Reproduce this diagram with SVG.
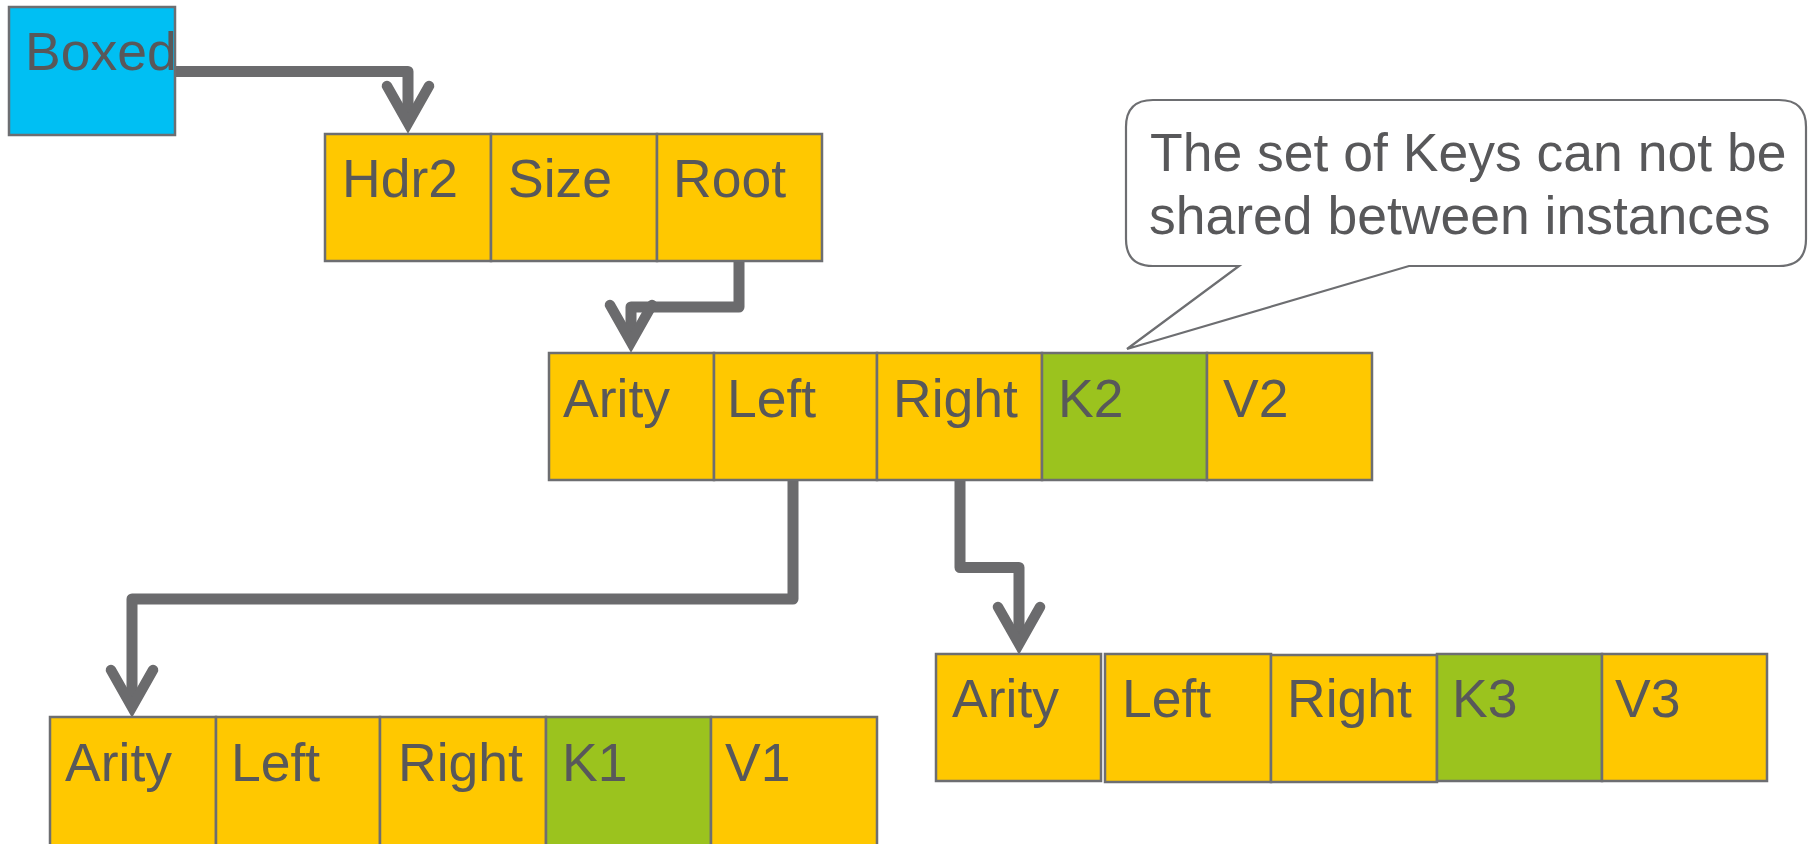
<svg xmlns="http://www.w3.org/2000/svg" width="1808" height="844" viewBox="0 0 1808 844">
<style>
  .cell { stroke: #6d6e71; stroke-width: 2.5; }
  .y { fill: #ffc800; }
  .g { fill: #9bc31e; }
  .b { fill: #00bff3; }
  .t { font-family: "Liberation Sans", Arial, sans-serif; font-size: 53.5px; fill: #58585a; }
  .conn { fill: none; stroke: #6b6b6d; stroke-width: 11; stroke-linejoin: round; marker-end: url(#arr); }
  .callout { fill: #ffffff; stroke: #6d6e71; stroke-width: 2.2; stroke-linejoin: miter; }
</style>
<defs>
  <marker id="arr" markerUnits="userSpaceOnUse" orient="auto" refX="0" refY="0" markerWidth="80" markerHeight="80" viewBox="-40 -40 80 80" overflow="visible">
    <path d="M-37,-21 L0,0 L-37,21" fill="none" stroke="#6b6b6d" stroke-width="10.5" stroke-linecap="round" stroke-linejoin="miter" stroke-miterlimit="6"/>
  </marker>
</defs>
<rect width="1808" height="844" fill="#ffffff"/>

<g id="connectors">
  <path class="conn" d="M174,71.5 H408 V123"/>
  <path class="conn" d="M739,261 V307 H631 V342"/>
  <path class="conn" d="M793,480 V599 H132 V707"/>
  <path class="conn" d="M960,480 V567.5 H1019 V644"/>
</g>

<g id="boxed">
  <rect class="cell b" x="9" y="7" width="166" height="128"/>
  <text class="t" x="25" y="70">Boxed</text>
</g>

<g id="header">
  <rect class="cell y" x="325" y="134" width="166" height="127"/>
  <rect class="cell y" x="491" y="134" width="166" height="127"/>
  <rect class="cell y" x="657" y="134" width="165" height="127"/>
  <text class="t" x="342" y="197">Hdr2</text>
  <text class="t" x="508" y="197">Size</text>
  <text class="t" x="673" y="197">Root</text>
</g>

<g id="node2">
  <rect class="cell y" x="549" y="353" width="165" height="127"/>
  <rect class="cell y" x="714" y="353" width="163" height="127"/>
  <rect class="cell y" x="877" y="353" width="165" height="127"/>
  <rect class="cell g" x="1042" y="353" width="165" height="127"/>
  <rect class="cell y" x="1207" y="353" width="165" height="127"/>
  <text class="t" x="563" y="417">Arity</text>
  <text class="t" x="727" y="417">Left</text>
  <text class="t" x="893" y="417">Right</text>
  <text class="t" x="1058" y="417">K2</text>
  <text class="t" x="1223" y="417">V2</text>
</g>

<g id="node1">
  <rect class="cell y" x="50" y="717" width="166" height="130"/>
  <rect class="cell y" x="216" y="717" width="164" height="130"/>
  <rect class="cell y" x="380" y="717" width="166" height="130"/>
  <rect class="cell g" x="546" y="717" width="165" height="130"/>
  <rect class="cell y" x="711" y="717" width="166" height="130"/>
  <text class="t" x="65" y="781">Arity</text>
  <text class="t" x="231" y="781">Left</text>
  <text class="t" x="398" y="781">Right</text>
  <text class="t" x="562" y="781">K1</text>
  <text class="t" x="725" y="781">V1</text>
</g>

<g id="node3">
  <rect class="cell y" x="936" y="654" width="165" height="127"/>
  <rect class="cell y" x="1105" y="654" width="166" height="128"/>
  <rect class="cell y" x="1271" y="655" width="166" height="127"/>
  <rect class="cell g" x="1437" y="654" width="165" height="127"/>
  <rect class="cell y" x="1602" y="654" width="165" height="127"/>
  <text class="t" x="952" y="717">Arity</text>
  <text class="t" x="1122" y="717">Left</text>
  <text class="t" x="1287" y="717">Right</text>
  <text class="t" x="1452" y="717">K3</text>
  <text class="t" x="1615" y="717">V3</text>
</g>

<g id="callout">
  <path class="callout" d="M1153,100 H1779 Q1806,100 1806,127 V239 Q1806,266 1779,266 H1409 L1127,349 L1239,266 H1153 Q1126,266 1126,239 V127 Q1126,100 1153,100 Z"/>
  <text class="t" x="1150" y="171">The set of Keys can not be</text>
  <text class="t" x="1149" y="234">shared between instances</text>
</g>
</svg>
